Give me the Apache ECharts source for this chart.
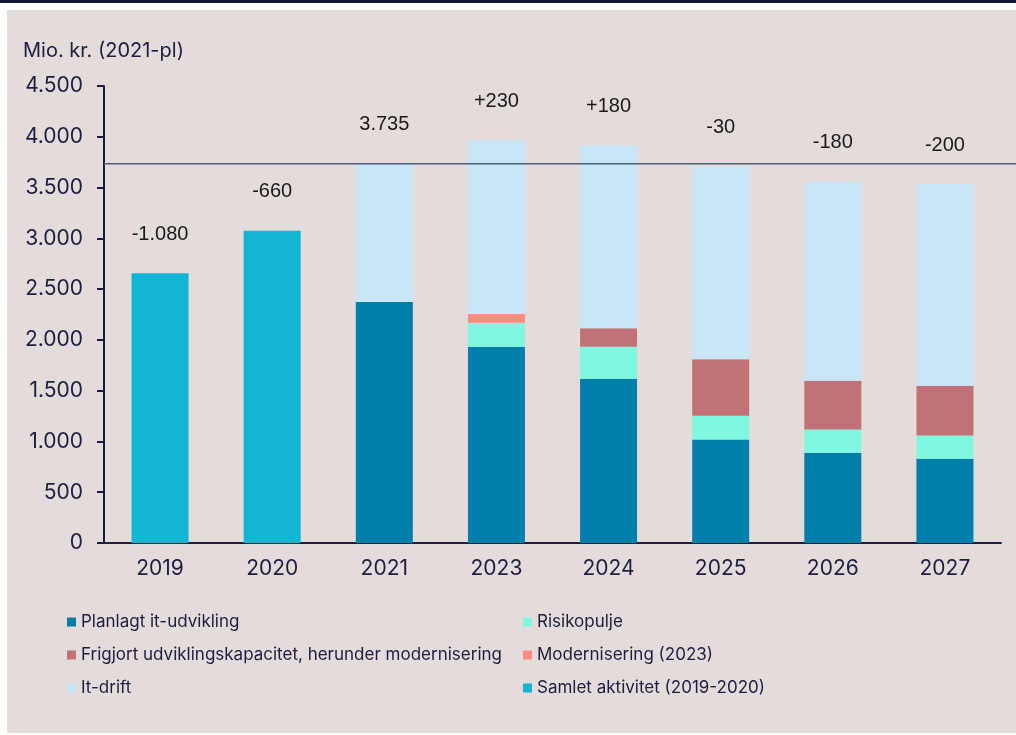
<!DOCTYPE html>
<html><head><meta charset="utf-8">
<script src="https://cdn.jsdelivr.net/npm/echarts@6/dist/echarts.min.js"></script>
<style>html,body{margin:0;padding:0;background:#fff}#c{width:1016px;height:735px}</style>
</head><body><div id="c"></div><script>
const categories = ['2019','2020','2021','2023','2024','2025','2026','2027'];
const samlet   = [2655, 3075, null, null, null, null, null, null];
const planlagt = [null, null, 2374, 1929, 1617, 1020, 889, 830];
const risiko   = [null, null, null, 239, 315, 233, 229, 229];
const frigjort = [null, null, null, null, 183, 557, 479, 489];
const modern   = [null, null, null, 88, null, null, null, null];
const itdrift  = [null, null, 1361, 1709, 1800, 1895, 1958, 1987];
const changeLabels = ['-1.080','-660','3.735','+230','+180','-30','-180','-200'];
const referenceValue = 3735;
const yMin = 0, yMax = 4500, yStep = 500;

const NAVY = '#1d1d42';
const fmt = v => String(v).replace(/\B(?=(\d{3})+(?!\d))/g, '.');
const lbl = {
  show: true, position: 'top', distance: 29,
  fontFamily: 'Liberation Sans', fontSize: 20, color: '#1a1a1a',
  formatter: p => changeLabels[p.dataIndex]
};
const legendText = { fontFamily: 'Inter', fontSize: 17, color: NAVY, lineHeight: 20 };

const chart = echarts.init(document.getElementById('c'), null, { renderer: 'canvas' });
const bw = 57;
chart.setOption({
  animation: false,
  backgroundColor: '#ffffff',
  title: {
    text: 'Mio. kr. (2021-pl)', left: 23, top: 41, padding: 0,
    textStyle: { fontFamily: 'Inter', fontSize: 20, fontWeight: 'normal', color: NAVY }
  },
  grid: { left: 104, right: 15, top: 86, bottom: 192, containLabel: false },
  xAxis: {
    type: 'category', data: categories,
    axisLine: { lineStyle: { color: NAVY, width: 2 } },
    axisTick: { show: false },
    axisLabel: { fontFamily: 'Inter', fontSize: 21, color: NAVY, margin: 15 }
  },
  yAxis: {
    type: 'value', min: yMin, max: yMax, interval: yStep,
    axisLine: { show: true, lineStyle: { color: NAVY, width: 2 } },
    axisTick: { show: true, length: 7, lineStyle: { color: NAVY, width: 2 } },
    splitLine: { show: false },
    axisLabel: { fontFamily: 'Inter', fontSize: 21, color: NAVY, margin: 21, formatter: fmt }
  },
  legend: [
    { orient: 'vertical', left: 67, top: 612, padding: 0, itemWidth: 9, itemHeight: 9, itemGap: 13,
      icon: 'rect', textStyle: legendText,
      data: ['Planlagt it-udvikling', 'Frigjort udviklingskapacitet, herunder modernisering', 'It-drift'] },
    { orient: 'vertical', left: 523, top: 612, padding: 0, itemWidth: 9, itemHeight: 9, itemGap: 13,
      icon: 'rect', textStyle: legendText,
      data: ['Risikopulje', 'Modernisering (2023)', 'Samlet aktivitet (2019-2020)'] }
  ],
  series: [
    { name: 'Samlet aktivitet (2019-2020)', type: 'bar', stack: 'a', barWidth: bw, data: samlet,
      itemStyle: { color: '#13b5d3' }, label: lbl },
    { name: 'Planlagt it-udvikling', type: 'bar', stack: 'a', barWidth: bw, data: planlagt,
      itemStyle: { color: '#007faa' } },
    { name: 'Risikopulje', type: 'bar', stack: 'a', barWidth: bw, data: risiko,
      itemStyle: { color: '#80f7e0' } },
    { name: 'Frigjort udviklingskapacitet, herunder modernisering', type: 'bar', stack: 'a', barWidth: bw, data: frigjort,
      itemStyle: { color: '#c07277' } },
    { name: 'Modernisering (2023)', type: 'bar', stack: 'a', barWidth: bw, data: modern,
      itemStyle: { color: '#f98d80' } },
    { name: 'It-drift', type: 'bar', stack: 'a', barWidth: bw, data: itdrift,
      itemStyle: { color: '#c8e6f8' }, label: lbl }
  ]
});

const refY = chart.convertToPixel({ yAxisIndex: 0 }, referenceValue);
chart.setOption({
  graphic: [
    { type: 'rect', z: -10, silent: true, shape: { x: 0, y: 0, width: 1016, height: 3 }, style: { fill: '#15163b' } },
    { type: 'rect', z: -10, silent: true, shape: { x: 7, y: 10, width: 1009, height: 723 }, style: { fill: '#e3dcdb' } },
    { type: 'line', z: 100, silent: true, shape: { x1: 104, y1: refY, x2: 1016, y2: refY },
      style: { stroke: '#4d5d76', lineWidth: 1.5 } }
  ]
});
</script></body></html>
